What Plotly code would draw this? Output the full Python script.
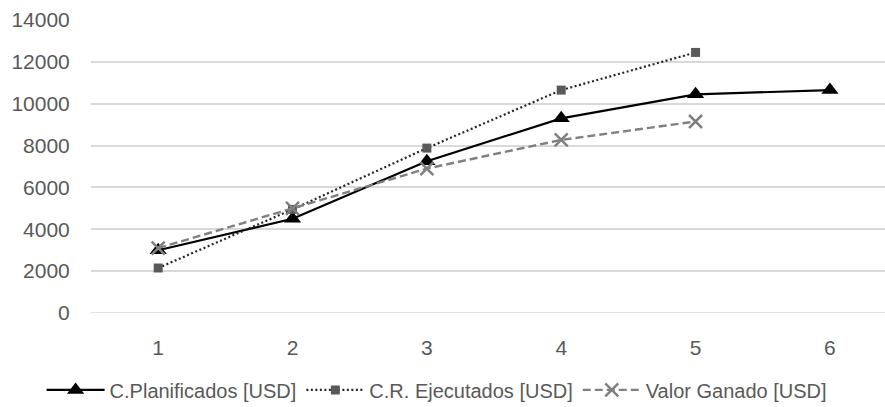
import plotly.graph_objects as go

periods = [1, 2, 3, 4, 5, 6]
planificados = [3000, 4500, 7250, 9300, 10450, 10650]
ejecutados = [2150, 4950, 7880, 10650, 12450]
valor_ganado = [3100, 5000, 6900, 8270, 9150]
y_ticks = [0, 2000, 4000, 6000, 8000, 10000, 12000, 14000]

FONT = "Liberation Sans, Arial, sans-serif"
GREY_TXT = "#595959"

fig = go.Figure()
fig.add_trace(go.Scatter(
    x=periods, y=planificados, name="C.Planificados [USD]", mode="lines+markers",
    line=dict(color="black", width=2.2),
    marker=dict(symbol="triangle-up", size=15, color="black"),
))
fig.add_trace(go.Scatter(
    x=periods[:len(ejecutados)], y=ejecutados, name="C.R. Ejecutados [USD]", mode="lines+markers",
    line=dict(color="#262626", width=2.2, dash="2px,2.5px"),
    marker=dict(symbol="square", size=9, color="#595959"),
))
fig.add_trace(go.Scatter(
    x=periods[:len(valor_ganado)], y=valor_ganado, name="Valor Ganado [USD]", mode="lines+markers",
    line=dict(color="#808080", width=2.4, dash="8px,4px"),
    marker=dict(symbol="x-thin", size=13, color="#808080", line=dict(width=2.5, color="#808080")),
))

fig.update_layout(
    width=885, height=407,
    margin=dict(l=91, r=0, t=20, b=94, autoexpand=False),
    paper_bgcolor="white", plot_bgcolor="white",
    font=dict(family=FONT, size=20, color=GREY_TXT),
    showlegend=True,
    legend=dict(
        orientation="h", x=0.047, xanchor="left", xref="container",
        y=0.042, yanchor="middle", yref="container",
        font=dict(family=FONT, size=20, color=GREY_TXT),
        itemwidth=58, tracegroupgap=0,
    ),
)
fig.update_xaxes(
    range=[0.5, 6.41], tickvals=periods, ticktext=[str(p) for p in periods],
    showgrid=False, zeroline=False, showline=False,
    ticks="outside", ticklen=16, tickcolor="rgba(0,0,0,0)",
    tickfont=dict(family=FONT, size=21, color=GREY_TXT),
)
fig.update_yaxes(
    range=[0, 14000], tickvals=y_ticks, ticktext=[str(v) for v in y_ticks],
    showgrid=True, gridcolor="#d9d9d9", gridwidth=1.5, zeroline=False, showline=False,
    ticks="outside", ticklen=16, tickcolor="rgba(0,0,0,0)",
    tickfont=dict(family=FONT, size=21, color=GREY_TXT),
)
fig.add_shape(type="line", xref="paper", yref="y", x0=0, x1=1, y0=0, y1=0,
              line=dict(color="#d9d9d9", width=1.5), layer="below")

fig.write_html("out.html")
